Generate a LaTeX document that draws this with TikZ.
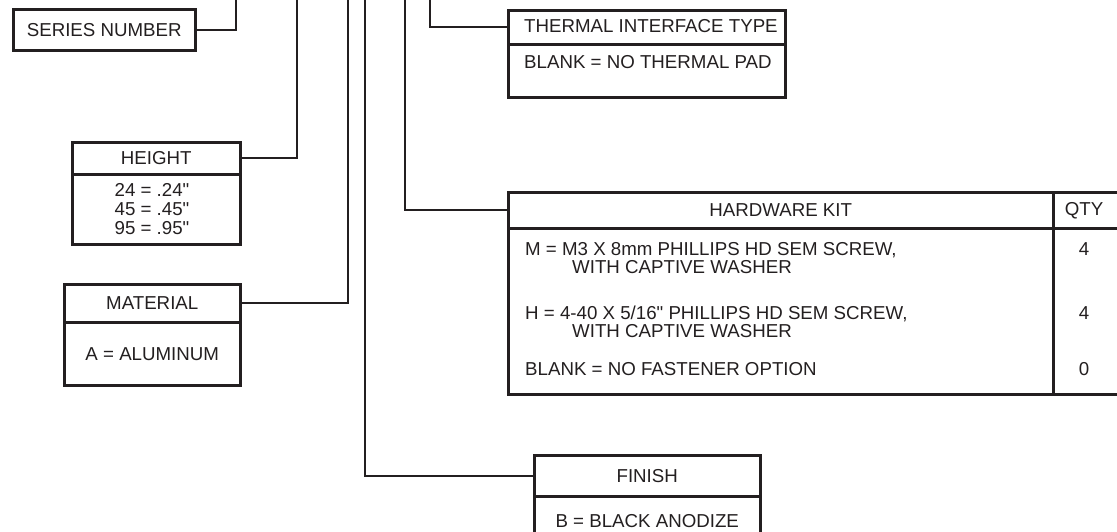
\documentclass[tikz,border=0pt]{standalone}
\usepackage{fontspec}
\setmainfont{Liberation Sans}[Ligatures=TeXOff]
\definecolor{ink}{HTML}{231F20}
\tikzset{
  ln/.style={line width=2.4pt, draw=ink},
  cell/.style={draw=ink, line width=2.5pt, inner sep=0pt, anchor=north west,
               font=\fontsize{18.7}{20}\selectfont, text=ink, text height=13.4pt, text depth=0pt},
  txt/.style={font=\fontsize{18.7}{20}\selectfont, text=ink, inner sep=0pt,
              text height=13.4pt, text depth=0pt},
  ltxt/.style={txt, anchor=west},
}
\begin{document}
\begin{tikzpicture}[x=1pt, y=-1pt]
\useasboundingbox (0,0) rectangle (1117,531);
\clip (0,0) rectangle (1117,531);
% top coordinates (free ends of connectors)
\coordinate (t1) at (236,-5);
\coordinate (t2) at (297,-5);
\coordinate (t3) at (348,-5);
\coordinate (t4) at (365,-5);
\coordinate (t5) at (405,-5);
\coordinate (t6) at (430,-5);
% series number
\node[cell, minimum width=182pt, minimum height=41pt] (ser) at (12,8) {SERIES NUMBER};
% height
\node[cell, minimum width=168pt, minimum height=32pt] (hgtH) at (71,141) {HEIGHT};
\node[cell, minimum width=168pt, minimum height=70pt] (hgtB) at (71,173) {};
\node[txt] (h1) at (152,190) {24 = .24"};
\node[txt] (h2) at (152,209) {45 = .45"};
\node[txt] (h3) at (152,228) {95 = .95"};
% material
\node[cell, minimum width=176pt, minimum height=38pt] (matH) at (63,283) {MATERIAL};
\node[cell, minimum width=176pt, minimum height=63pt] (matB) at (63,321) {A = ALUMINUM};
% thermal
\node[cell, minimum width=277pt, minimum height=34pt] (thH) at (507,9) {};
\node[cell, minimum width=277pt, minimum height=53pt] (thB) at (507,43) {};
\node[ltxt] (th1) at (524,26) {THERMAL INTERFACE TYPE};
\node[ltxt] (th2) at (524,62) {BLANK = NO THERMAL PAD};
% hardware kit
\node[cell, minimum width=545pt, minimum height=36pt] (hwH) at (507,191) {HARDWARE KIT};
\node[cell, minimum width=68pt, minimum height=36pt] (qH) at (1052,191) {};
\node[cell, minimum width=545pt, minimum height=166pt] (hwB) at (507,227) {};
\node[cell, minimum width=68pt, minimum height=166pt] (qB) at (1052,227) {};
\node[txt] (qt) at (1084,209) {QTY};
\node[ltxt] (m1) at (525,249) {M = M3 X 8mm PHILLIPS HD SEM SCREW,};
\node[ltxt] (m2) at (572,267) {WITH CAPTIVE WASHER};
\node[ltxt] (hh1) at (525,313) {H = 4-40 X 5/16" PHILLIPS HD SEM SCREW,};
\node[ltxt] (hh2) at (572,331) {WITH CAPTIVE WASHER};
\node[ltxt] (bl) at (525,369) {BLANK = NO FASTENER OPTION};
\node[txt] (q1) at (1084,249) {4};
\node[txt] (q2) at (1084,313) {4};
\node[txt] (q3) at (1084,369) {0};
% finish
\node[cell, minimum width=226pt, minimum height=41pt] (finH) at (533,454) {FINISH};
\node[cell, minimum width=226pt, minimum height=50pt] (finB) at (533,495) {B = BLACK ANODIZE};
% connectors
\draw[ln] (ser.east) -| (t1);
\draw[ln] (hgtH.east) -| (t2);
\draw[ln] (matH.east) -| (t3);
\draw[ln] (t4) |- (finH.west);
\draw[ln] (t5) |- (hwH.west);
\draw[ln] (t6) |- (thH.west);
\end{tikzpicture}
\end{document}
